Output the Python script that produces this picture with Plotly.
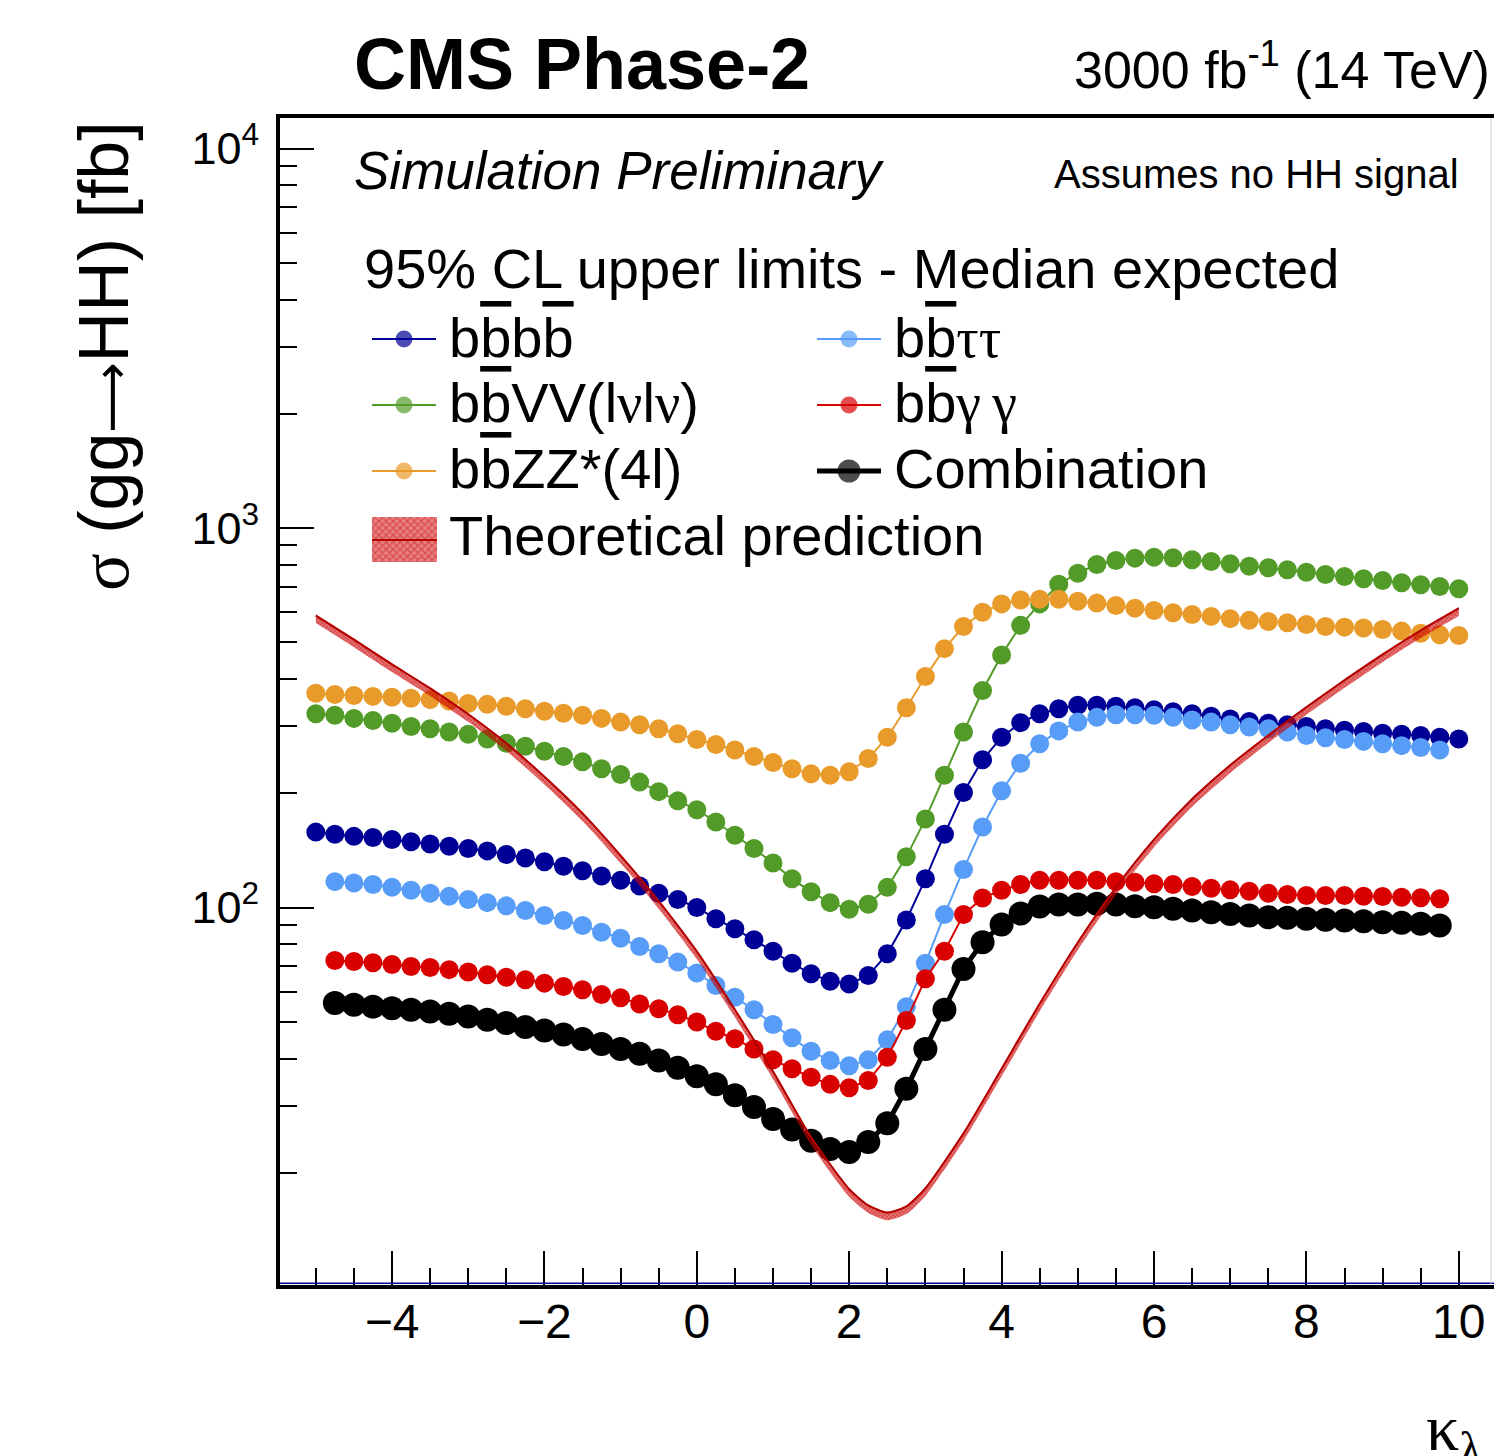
import plotly.graph_objects as go

# ---------------- data ----------------
kappa_full = [-5.0, -4.75, -4.5, -4.25, -4.0, -3.75, -3.5, -3.25, -3.0, -2.75,
              -2.5, -2.25, -2.0, -1.75, -1.5, -1.25, -1.0, -0.75, -0.5, -0.25,
              0.0, 0.25, 0.5, 0.75, 1.0, 1.25, 1.5, 1.75, 2.0, 2.25,
              2.5, 2.75, 3.0, 3.25, 3.5, 3.75, 4.0, 4.25, 4.5, 4.75,
              5.0, 5.25, 5.5, 5.75, 6.0, 6.25, 6.5, 6.75, 7.0, 7.25,
              7.5, 7.75, 8.0, 8.25, 8.5, 8.75, 9.0, 9.25, 9.5, 9.75, 10.0]
kappa_short = kappa_full[1:-1]

limit_bbbb = [158, 156, 154, 153, 151, 149, 147, 145, 143, 141,
              138, 135, 132, 128.5, 125, 121, 118, 114, 109, 105,
              100, 93.4, 87.9, 82.2, 76.7, 71.3, 66.9, 63.9, 62.9, 66.2,
              75.5, 92.7, 119, 156, 201, 245, 281, 307, 324, 334,
              341, 341, 339, 336, 332, 328, 324, 319, 314, 309,
              306, 303, 300, 296, 293, 291, 288, 286, 284, 281, 278]

limit_bbtautau = [117, 116, 115, 113, 111, 109, 107, 105, 103, 101,
                  98.2, 95.3, 92.4, 89.7, 86.1, 83.0, 78.9, 75.5, 71.8, 67.2,
                  62.3, 58.0, 53.8, 49.2, 45.4, 41.8, 39.5, 38.3, 39.7, 44.8,
                  54.8, 71.3, 95.8, 126, 163, 203, 240, 270, 292, 308,
                  317, 322, 322, 321, 317, 312, 308, 303, 299, 296,
                  290, 284, 280, 277, 274, 270, 267, 264, 260]

limit_bbVV = [324, 321, 315, 311, 306, 300, 296, 290, 286, 278,
              271, 266, 258, 250, 242, 232, 224, 214, 202, 191,
              181, 168, 155, 143, 131, 119, 110, 103, 99, 102,
              113, 136, 171, 223, 290, 373, 463, 554, 631, 711,
              760, 801, 821, 833, 838, 835, 825, 816, 805, 793,
              786, 776, 765, 754, 745, 735, 727, 717, 709, 701, 692]

limit_bbgg = [72.5, 72.1, 71.5, 70.8, 69.9, 69.5, 68.6, 67.6, 66.5, 65.5,
              64.5, 63.2, 61.9, 60.7, 59.0, 57.8, 55.7, 54.1, 52.2, 49.9,
              47.2, 45.1, 42.4, 39.7, 37.6, 35.7, 34.2, 33.5, 35.0, 40.3,
              50.4, 64.9, 76.7, 95.8, 106, 111, 115, 118, 118, 118,
              118, 117, 116.6, 115.5, 115, 113.6, 112.4, 111.3, 110.4, 109.1,
              108.2, 107.5, 107.5, 107.5, 107.1, 106.9, 106.4, 106.1, 105.4]

limit_bbZZ = [367, 364, 362, 360, 358, 356, 353, 350, 345, 343,
              339, 334, 329, 325, 321, 315, 308, 303, 296, 287,
              277, 269, 260, 250, 241, 232, 225, 223, 228, 247,
              281, 336, 406, 481, 550, 600, 631, 646, 649, 649,
              641, 634, 625, 615, 606, 598, 592, 585, 577, 571,
              567, 563, 557, 550, 548, 545, 540, 535, 528, 523, 521]

limit_comb = [56.0, 55.4, 54.8, 54.3, 53.8, 53.2, 52.5, 51.6, 50.6, 49.6,
              48.4, 47.4, 46.3, 45.0, 43.7, 42.4, 41.2, 39.5, 37.8, 35.9,
              34.2, 32.0, 29.8, 27.7, 26.0, 24.3, 23.1, 22.7, 24.1, 27.0,
              33.3, 42.4, 53.8, 68.9, 81.0, 90.2, 96.4, 100.6, 101.8, 101.8,
              102.3, 101.8, 100.8, 100.2, 99.2, 98.2, 97.2, 96.2, 95.3, 94.3,
              94.0, 93.4, 92.8, 92.4, 92.0, 91.5, 91.1, 90.6, 89.7]

kappa_theory = [-5.0, -4.5, -4.0, -3.5, -3.0, -2.5, -2.0, -1.5, -1.0, -0.5,
                0.0, 0.5, 1.0, 1.5, 2.0, 2.25, 2.5, 2.75, 3.0, 3.5,
                4.0, 4.5, 5.0, 5.5, 6.0, 6.5, 7.0, 7.5, 8.0, 8.5, 9.0, 9.5, 10.0]
xsec_theory = [588, 508, 437, 378, 323, 271, 221, 177, 137, 104,
               76.6, 53.8, 37.0, 24.8, 18.1, 16.4, 15.7, 16.3, 18.2, 25.4,
               37.6, 55.8, 80.9, 113, 151, 193, 237, 284, 337, 397, 464, 537, 614]
theory_unc_up = 0.008     # relative width of the hatched band
theory_unc_down = 0.045

y_major_ticks = [100, 1000, 10000]
y_major_labels = ["10<sup>2</sup>", "10<sup>3</sup>", "10<sup>4</sup>"]
y_minor_ticks = [20, 30, 40, 50, 60, 70, 80, 90,
                 200, 300, 400, 500, 600, 700, 800, 900,
                 2000, 3000, 4000, 5000, 6000, 7000, 8000, 9000]

# ---------------- styling ----------------
C_BBBB = "#000096"
C_BBTT = "#579df7"
C_BBVV = "#529b28"
C_BBGG = "#d90000"
C_BBZZ = "#e89b2a"
C_COMB = "#000000"
C_TH_LINE = "#b40000"
C_TH_HATCH = "#cc0000"

SANS = "Liberation Sans, Arial, Helvetica, sans-serif"
SERIF = "Liberation Serif"

W, H = 1494, 1456
PL, PR, PT, PB = 280, 1494, 118, 1285   # plot-area box in pixels
X_RANGE = [-5.47, 10.462]
Y_RANGE = [1.0053, 4.0804]
MS, MS_COMB = 19, 24
LEG_SIZE = 56


def fx(px):
    return (px - PL) / (PR - PL)


def fy(py):
    return (PB - py) / (PB - PT)


def ov(t):
    return ('<span style="text-decoration:overline;'
            'text-decoration-thickness:2px">' + t + '</span>')


def gr(t):
    return '<span style="font-family:' + SERIF + '">' + t + '</span>'


fig = go.Figure()

series = [
    (kappa_full, limit_bbbb, C_BBBB, 2, MS),
    (kappa_short, limit_bbtautau, C_BBTT, 2, MS),
    (kappa_full, limit_bbVV, C_BBVV, 2, MS),
    (kappa_short, limit_bbgg, C_BBGG, 2, MS),
    (kappa_full, limit_bbZZ, C_BBZZ, 2, MS),
    (kappa_short, limit_comb, C_COMB, 5, MS_COMB),
]
for xs, ys, col, lw, ms in series:
    fig.add_trace(go.Scatter(
        x=xs, y=ys, mode="lines+markers",
        line=dict(color=col, width=lw),
        marker=dict(color=col, size=ms, line=dict(width=0)),
        showlegend=False, hoverinfo="skip"))

# theory band + central line
th_lo = [v * (1 - theory_unc_down) for v in xsec_theory]
th_hi = [v * (1 + theory_unc_up) for v in xsec_theory]
fig.add_trace(go.Scatter(x=kappa_theory, y=th_lo, mode="lines",
                         line=dict(width=0, color=C_TH_HATCH, shape="spline", smoothing=0.6),
                         showlegend=False, hoverinfo="skip"))
fig.add_trace(go.Scatter(x=kappa_theory, y=th_hi, mode="lines", fill="tonexty",
                         fillpattern=dict(shape="x", fgcolor=C_TH_HATCH, size=3, solidity=0.5),
                         line=dict(width=0, color=C_TH_HATCH, shape="spline", smoothing=0.6),
                         showlegend=False, hoverinfo="skip"))
fig.add_trace(go.Scatter(x=kappa_theory, y=xsec_theory, mode="lines",
                         line=dict(width=2, color=C_TH_LINE, shape="spline", smoothing=0.6),
                         showlegend=False, hoverinfo="skip"))

# empty trace so the minor-tick overlay axis is created
fig.add_trace(go.Scatter(x=[], y=[], yaxis="y3", showlegend=False))

# ---------------- hand-made legend (keys on an overlay 0..1 frame) ----------------
legend_entries = [
    # label, colour, line width, marker size, key x-start px, row marker y px
    ("b" + ov("b") + "b" + ov("b"), C_BBBB, 2, 17, 372, 339),
    ("b" + ov("b") + gr("ττ"), C_BBTT, 2, 17, 817, 339),
    ("b" + ov("b") + "VV(l" + gr("ν") + "l" + gr("ν") + ")", C_BBVV, 2, 17, 372, 405),
    ("b" + ov("b") + gr("γ\u2009γ"), C_BBGG, 2, 17, 817, 405),
    ("b" + ov("b") + "ZZ*(4l)", C_BBZZ, 2, 17, 372, 471),
    ("Combination", C_COMB, 5, 23, 817, 471),
]
KEY_W = 64
for label, col, lw, ms, kx, ky in legend_entries:
    fig.add_trace(go.Scatter(
        x=[fx(kx), fx(kx + KEY_W / 2), fx(kx + KEY_W)], y=[fy(ky)] * 3,
        xaxis="x2", yaxis="y2", mode="lines+markers",
        line=dict(color=col, width=lw),
        marker=dict(color=col, size=[0, ms, 0], line=dict(width=0)),
        showlegend=False, hoverinfo="skip", cliponaxis=False))
    fig.add_annotation(xref="paper", yref="paper", x=fx(kx + 75), y=fy(ky - 2),
                       xanchor="left", yanchor="middle", showarrow=False,
                       text=label, font=dict(size=LEG_SIZE, family=SANS, color="black"))

# theory key
tx0, tx1, ty0, ty1 = 372, 437, 517, 562
fig.add_trace(go.Scatter(
    x=[fx(tx0), fx(tx1), fx(tx1), fx(tx0), fx(tx0)],
    y=[fy(ty0), fy(ty0), fy(ty1), fy(ty1), fy(ty0)],
    xaxis="x2", yaxis="y2", mode="lines", fill="toself",
    fillpattern=dict(shape="x", fgcolor=C_TH_HATCH, size=5, solidity=0.35),
    line=dict(width=0, color=C_TH_HATCH), showlegend=False, hoverinfo="skip"))
fig.add_trace(go.Scatter(
    x=[fx(tx0), fx(tx1)], y=[fy(540), fy(540)], xaxis="x2", yaxis="y2",
    mode="lines", line=dict(width=2, color=C_TH_LINE), showlegend=False, hoverinfo="skip"))
fig.add_annotation(xref="paper", yref="paper", x=fx(447), y=fy(535),
                   xanchor="left", yanchor="middle", showarrow=False,
                   text="Theoretical prediction",
                   font=dict(size=LEG_SIZE, family=SANS, color="black"))

# ---------------- other texts ----------------
texts = [
    ("<b>CMS Phase-2</b>", 352, 64, 72),
    ("<i>Simulation Preliminary</i>", 352, 170, 53),
    ("Assumes no HH signal", 1052, 174, 40),
    ("95% CL upper limits - Median expected", 362, 268, LEG_SIZE),
]
for t, x, y, s in texts:
    fig.add_annotation(xref="paper", yref="paper", x=fx(x), y=fy(y),
                       xanchor="left", yanchor="middle", showarrow=False,
                       text=t, font=dict(size=s, family=SANS, color="black"))

fig.add_annotation(xref="paper", yref="paper", x=fx(1072), y=fy(101),
                   xanchor="left", yanchor="bottom", showarrow=False,
                   text="3000 fb<sup>-1</sup> (14 TeV)",
                   font=dict(size=52, family=SANS, color="black"))

fig.add_annotation(xref="paper", yref="paper", x=fx(104), y=fy(119),
                   xanchor="center", yanchor="top", showarrow=False, textangle=-90,
                   text=gr("σ") + " (gg"
                   + '<span style="font-family:DejaVu Sans;font-size:49px">⟶</span>'
                   + "HH) [fb]",
                   font=dict(size=70, family=SANS, color="black"))

fig.add_annotation(xref="paper", yref="paper", x=fx(1424), y=fy(1432),
                   xanchor="left", yanchor="middle", showarrow=False,
                   text="κ<sub>λ</sub>", font=dict(size=66, family=SERIF, color="black"))

# ---------------- axes / layout ----------------
xaxis = dict(range=X_RANGE, showline=True, linewidth=4, linecolor="black", mirror=True,
             ticks="inside", ticklen=34, tickwidth=2, tickcolor="black",
             tick0=0, dtick=2,
             minor=dict(ticks="inside", ticklen=17, tickwidth=2, tickcolor="black",
                        tick0=0, dtick=0.5, showgrid=False),
             showgrid=False, zeroline=False,
             tickfont=dict(size=48, family=SANS, color="black"))
yaxis = dict(type="log", range=Y_RANGE, showline=True, linewidth=4, linecolor="black",
             ticks="inside", ticklen=34, tickwidth=2, tickcolor="black",
             tickvals=y_major_ticks, ticktext=y_major_labels,
             showgrid=False, zeroline=False,
             tickfont=dict(size=45, family=SANS, color="black"),
             ticklabelstandoff=8)

fig.update_layout(
    width=W, height=H,
    margin=dict(l=PL, r=W - PR, t=PT, b=H - PB, pad=0),
    paper_bgcolor="white", plot_bgcolor="white",
    showlegend=False,
    font=dict(family=SANS, color="black"),
    xaxis=xaxis, yaxis=yaxis,
    yaxis3=dict(type="log", range=Y_RANGE, overlaying="y", anchor="x", side="left",
                tickvals=y_minor_ticks, ticks="inside", ticklen=17, tickwidth=2,
                tickcolor="black", showticklabels=False, showline=False,
                showgrid=False, zeroline=False),
    xaxis2=dict(range=[0, 1], overlaying="x", anchor="y2", visible=False),
    yaxis2=dict(range=[0, 1], overlaying="y", anchor="x2", visible=False),
    shapes=[
        dict(type="line", xref="paper", yref="paper", x0=0, x1=1, y0=0.0015, y1=0.0015,
             line=dict(color="#000099", width=1.5), layer="above"),
        dict(type="line", xref="paper", yref="paper", x0=fx(1491), x1=fx(1491), y0=0, y1=1,
             line=dict(color="#d0d0d0", width=1), layer="above"),
    ],
)
try:
    fig.layout.xaxis.ticklabelstandoff = -9
except ValueError:
    fig.layout.xaxis.ticklabelstandoff = 0

fig.write_html("out.html", config={"displayModeBar": False})
